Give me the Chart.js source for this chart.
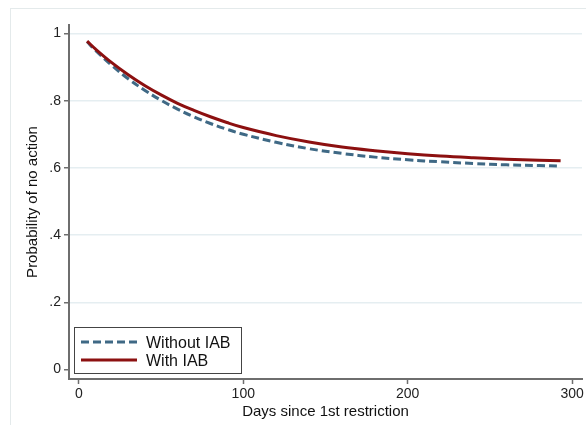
<!DOCTYPE html>
<html>
<head>
<meta charset="utf-8">
<script src="https://cdn.jsdelivr.net/npm/chart.js@4.4.1/dist/chart.umd.min.js"></script>
<style>
  html, body { margin: 0; padding: 0; background: #fff; }
  #wrap { position: relative; width: 586px; height: 425px; }
  #frame { position: absolute; left: 10px; top: 8px; right: 0; bottom: 0;
           border-left: 1px solid #e4eaeb; border-top: 1px solid #e4eaeb; }
  canvas { position: absolute; left: 0; top: 0; }
</style>
</head>
<body>
<div id="wrap">
  <div id="frame"></div>
  <canvas id="chart" width="586" height="425"></canvas>
</div>
<script>
// days since first restriction
const days = [5, 10, 20, 30, 40, 50, 60, 70, 80, 90, 100, 120, 140, 160, 180, 200, 220, 240, 260, 280, 293];
const withoutIAB = [0.975, 0.950, 0.905, 0.865, 0.831, 0.801, 0.775, 0.752, 0.732, 0.715, 0.700,
                    0.676, 0.657, 0.643, 0.632, 0.624, 0.618, 0.613, 0.609, 0.607, 0.605];
const withIAB = [0.977, 0.954, 0.913, 0.877, 0.845, 0.817, 0.792, 0.771, 0.752, 0.735, 0.720,
                 0.696, 0.677, 0.662, 0.651, 0.642, 0.635, 0.630, 0.626, 0.623, 0.621];
const xTicks = [0, 100, 200, 300];
const yTicks = [0, 0.2, 0.4, 0.6, 0.8, 1];
const yTickLabels = ['0', '.2', '.4', '.6', '.8', '1'];

const blue = '#3f6985';
const red = '#8c1010';
const axisGrey = '#6e6e6e';
const tickFont = { family: '"Liberation Sans", Arial, sans-serif', size: 14 };
const titleFont = { family: '"Liberation Sans", Arial, sans-serif', size: 15 };

// Stata-style legend box in the lower left of the plot
const legendBox = {
  id: 'legendBox',
  afterDraw(chart) {
    const { ctx, chartArea } = chart;
    const x = chartArea.left + 5, y = chartArea.bottom - 52, w = 167, h = 46;
    ctx.save();
    ctx.fillStyle = '#fff';
    ctx.fillRect(x, y, w, h);
    ctx.strokeStyle = '#444';
    ctx.lineWidth = 1;
    ctx.strokeRect(x + 0.5, y + 0.5, w, h);
    [0, 1].forEach((i, k) => {
      const ds = chart.data.datasets[i];
      const ly = y + 15 + k * 18;
      ctx.beginPath();
      ctx.setLineDash(ds.borderDash || []);
      ctx.strokeStyle = ds.borderColor;
      ctx.lineWidth = ds.borderWidth;
      ctx.moveTo(x + 7, ly);
      ctx.lineTo(x + 63, ly);
      ctx.stroke();
      ctx.setLineDash([]);
      ctx.fillStyle = '#111';
      ctx.font = '16px "Liberation Sans", Arial, sans-serif';
      ctx.textBaseline = 'alphabetic';
      ctx.fillText(ds.label, x + 72, ly + 6);
    });
    ctx.restore();
  }
};

new Chart(document.getElementById('chart'), {
  type: 'line',
  data: {
    datasets: [
      {
        label: 'Without IAB',
        data: days.map((d, i) => ({ x: d, y: withoutIAB[i] })),
        borderColor: blue,
        borderWidth: 3,
        borderDash: [8, 4],
        pointRadius: 0,
        tension: 0.4,
        order: 1
      },
      {
        label: 'With IAB',
        data: days.map((d, i) => ({ x: d, y: withIAB[i] })),
        borderColor: red,
        borderWidth: 3,
        pointRadius: 0,
        tension: 0.4,
        order: 0
      }
    ]
  },
  options: {
    responsive: false,
    animation: false,
    layout: { padding: { left: 24, top: 25, right: 4, bottom: 4 } },
    plugins: { legend: { display: false }, tooltip: { enabled: false } },
    scales: {
      x: {
        type: 'linear',
        min: -6,
        max: 306,
        afterBuildTicks: s => { s.ticks = xTicks.map(v => ({ value: v })); },
        afterFit: s => { s.height = 42; },
        border: { color: axisGrey, width: 2 },
        grid: { drawOnChartArea: false, tickLength: 5, tickColor: axisGrey, tickWidth: 1.5 },
        ticks: { font: tickFont, color: '#222', padding: 2, maxRotation: 0 },
        title: { display: true, text: 'Days since 1st restriction', font: titleFont, color: '#111', padding: { top: 0, bottom: 0 } }
      },
      y: {
        type: 'linear',
        min: -0.028,
        max: 1.025,
        afterBuildTicks: s => { s.ticks = yTicks.map(v => ({ value: v })); },
        afterFit: s => { s.width = 45; },
        border: { color: axisGrey, width: 2 },
        grid: {
          color: c => (c.tick && c.tick.value === 0 ? 'rgba(0,0,0,0)' : '#e5eef1'),
          lineWidth: 1.5,
          tickLength: 5,
          tickColor: axisGrey,
          tickWidth: 1.5
        },
        ticks: {
          font: tickFont, color: '#222', padding: 3,
          callback: v => yTickLabels[yTicks.indexOf(v)]
        },
        title: { display: true, text: 'Probability of no action', font: titleFont, color: '#111', padding: { top: 0, bottom: 0 } }
      }
    }
  },
  plugins: [legendBox]
});
</script>
</body>
</html>
